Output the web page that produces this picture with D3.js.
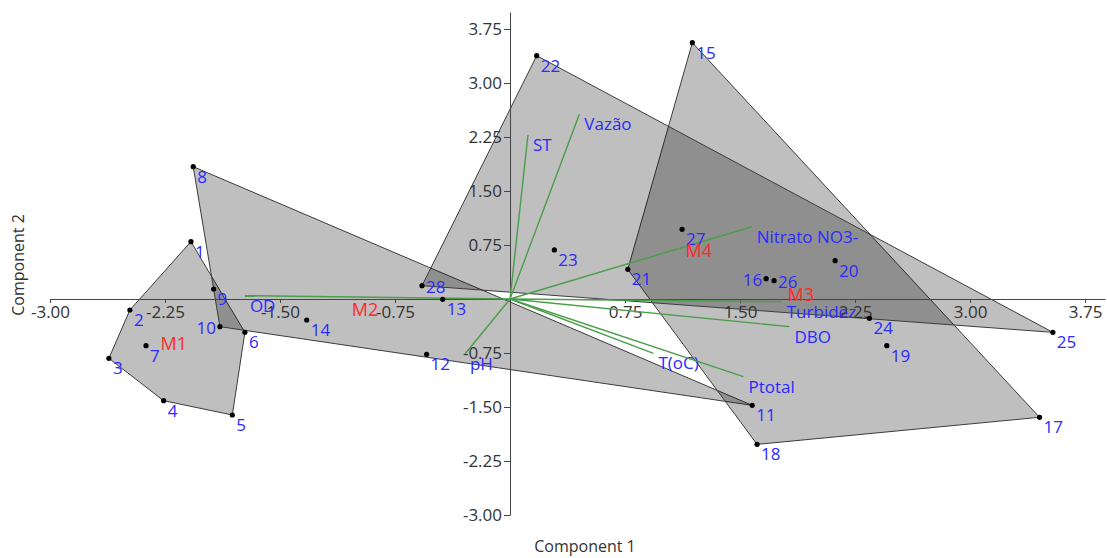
<!DOCTYPE html>
<html lang="en">
<head>
  <meta charset="UTF-8">
  <title>PCA biplot</title>
  <script src="https://d3js.org/d3.v7.min.js"></script>
  <style>
    body { margin: 0; background: #fff; font-family: "Open Sans", "Noto Sans", sans-serif; }
    .axis text { font-size: 17px; fill: #333; font-family: "Open Sans", sans-serif; }
    .axis path, .axis line { stroke: #444; }
  </style>
</head>
<body>
  <svg width="1107" height="558"></svg>

  <script>
    // sample scores (Component 1, Component 2)
    const ids = ["1","2","3","4","5","6","7","8","9","10","11","12","13","14",
                 "15","16","17","18","19","20","21","22","23","24","25","26","27","28"];
    const pc1 = [-2.081, -2.479, -2.616, -2.259, -1.811, -1.729, -2.374,
                 -2.066, -1.933, -1.892, 1.579, -0.544, -0.439, -1.326,
                 1.189, 1.670, 3.453, 1.611, 2.457, 2.120, 0.768,
                 0.174, 0.289, 2.344, 3.540, 1.722, 1.122, -0.574];
    const pc2 = [0.796, -0.153, -0.824, -1.412, -1.611, -0.463, -0.648,
                 1.838, 0.139, -0.384, -1.477, -0.768, -0.005, -0.292,
                 3.560, 0.282, -1.643, -2.019, -0.648, 0.532, 0.412,
                 3.379, 0.681, -0.269, -0.463, 0.254, 0.968, 0.185];
    const groups = ["M1","M1","M1","M1","M1","M1","M1",
                    "M2","M2","M2","M2","M2","M2","M2",
                    "M3","M3","M3","M3","M3","M3","M3",
                    "M4","M4","M4","M4","M4","M4","M4"];
    const groupNames = ["M1", "M2", "M3", "M4"];

    // variable loadings (biplot vectors)
    const varNames = ["OD", "ST", "Vazão", "Nitrato NO3-", "Turbidez", "DBO", "T(oC)", "Ptotal", "pH"];
    const varPc1 = [-1.729, 0.117, 0.452, 1.576, 1.772, 1.822, 0.935, 1.522, -0.294];
    const varPc2 = [0.046, 2.278, 2.565, 1.004, -0.037, -0.384, -0.755, -1.079, -0.764];

    const tickVals = [-3, -2.25, -1.5, -0.75, 0.75, 1.5, 2.25, 3, 3.75];

    const svg = d3.select("svg");

    const x = d3.scaleLinear().domain([-3, 3.88]).range([50, 1105]);
    const y = d3.scaleLinear().domain([-3, 3.986]).range([515, 12]);

    const pts = ids.map((id, i) => ({id, x: pc1[i], y: pc2[i], g: groups[i]}));
    const fmt = d => d.toFixed(2); // plain hyphen minus like the original

    // convex hulls
    const hulls = svg.append("g");
    groupNames.forEach(gn => {
      const gp = pts.filter(p => p.g === gn).map(p => [x(p.x), y(p.y)]);
      const hull = d3.polygonHull(gp);
      hulls.append("path")
        .attr("d", "M" + hull.join("L") + "Z")
        .attr("fill", "rgba(0,0,0,0.25)")
        .attr("stroke", "#3c3c3c")
        .attr("stroke-width", 1);
    });

    // axes through origin
    svg.append("g")
      .attr("class", "axis")
      .attr("transform", `translate(0,${y(0)})`)
      .call(d3.axisBottom(x).tickValues(tickVals).tickSize(4).tickSizeOuter(0).tickPadding(3)
        .tickFormat(fmt));

    svg.append("g")
      .attr("class", "axis")
      .attr("transform", `translate(${x(0)},0)`)
      .call(d3.axisLeft(y).tickValues(tickVals).tickSize(6).tickSizeOuter(0).tickPadding(2)
        .tickFormat(fmt));

    // loading vectors
    const vec = svg.append("g");
    varNames.forEach((name, i) => {
      vec.append("line")
        .attr("x1", x(0)).attr("y1", y(0))
        .attr("x2", x(varPc1[i])).attr("y2", y(varPc2[i]))
        .attr("stroke", "#4a9e4a")
        .attr("stroke-width", 1.4);
      vec.append("text")
        .attr("x", x(varPc1[i]) + 5)
        .attr("y", y(varPc2[i]) + 16)
        .attr("fill", "#2b2bff")
        .style("font-size", "17px")
        .text(name);
    });

    // points
    svg.append("g").selectAll("circle")
      .data(pts)
      .join("circle")
        .attr("cx", d => x(d.x))
        .attr("cy", d => y(d.y))
        .attr("r", 2.6)
        .attr("fill", "#000");

    const leftMid = ["10", "16"];
    const rightMid = ["26", "28"];
    svg.append("g").selectAll("text")
      .data(pts)
      .join("text")
        .attr("x", d => leftMid.includes(d.id) ? x(d.x) - 4 : x(d.x) + 4)
        .attr("y", d => (leftMid.includes(d.id) || rightMid.includes(d.id)) ? y(d.y) + 7 : y(d.y) + 16)
        .attr("text-anchor", d => leftMid.includes(d.id) ? "end" : "start")
        .attr("fill", "#2b2bff")
        .style("font-size", "17px")
        .text(d => d.id);

    // group labels at centroids
    groupNames.forEach(gn => {
      const gp = pts.filter(p => p.g === gn);
      const cx = d3.mean(gp, p => p.x), cy = d3.mean(gp, p => p.y);
      svg.append("text")
        .attr("x", x(cx))
        .attr("y", y(cy) + 7)
        .attr("text-anchor", "middle")
        .attr("fill", "#ff2a2a")
        .style("font-size", "18px")
        .text(gn);
    });

    // axis titles
    svg.append("text")
      .attr("x", 585).attr("y", 552)
      .attr("text-anchor", "middle")
      .attr("fill", "#333")
      .style("font-size", "16px")
      .text("Component 1");

    svg.append("text")
      .attr("transform", "translate(24,265) rotate(-90)")
      .attr("text-anchor", "middle")
      .attr("fill", "#333")
      .style("font-size", "16px")
      .text("Component 2");
  </script>
</body>
</html>
